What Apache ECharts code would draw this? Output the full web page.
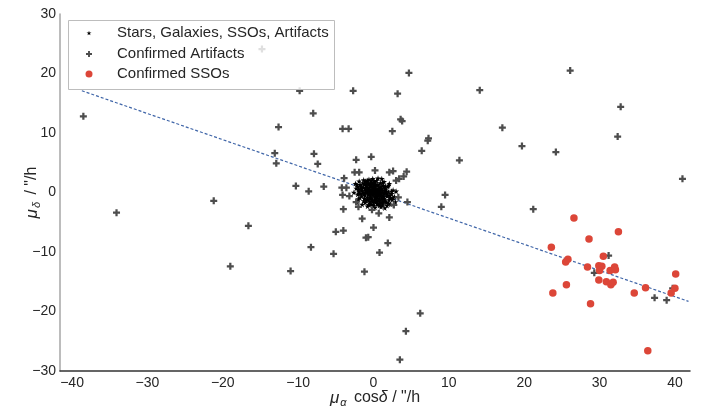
<!DOCTYPE html>
<html>
<head>
<meta charset="utf-8">
<script src="https://cdn.jsdelivr.net/npm/echarts@6/dist/echarts.min.js"></script>
<style>
html,body{margin:0;padding:0;background:#fff;}
#chart{width:707px;height:409px;}
</style>
</head>
<body>
<div id="chart"></div>
<script>
// ---- data ----
var seriesNames = ['Stars, Galaxies, SSOs, Artifacts', 'Confirmed Artifacts', 'Confirmed SSOs'];
var xTickLabels = [-40, -30, -20, -10, 0, 10, 20, 30, 40];
var yTickLabels = [-30, -20, -10, 0, 10, 20, 30];

// dense cluster of all detections around zero motion
var allSources = [
[0.0,0.0],[0.3,0.2],[-0.2,0.4],[0.5,-0.3],[0.8,0.1],[-0.5,-0.1],[0.2,-0.6],[-0.1,0.8],[1.0,-0.5],[-0.7,0.5],
[0.6,0.7],[-0.4,-0.6],[1.2,0.3],[-0.9,0.0],[0.4,-1.0],[-0.3,1.1],[1.4,-0.2],[-1.1,0.7],[0.9,0.9],[-0.8,-0.8],
[0.1,-1.3],[-0.6,1.3],[1.6,0.5],[-1.3,-0.3],[1.1,-1.1],[-1.0,1.2],[0.7,-1.4],[0.3,1.4],[1.8,-0.6],[-1.5,0.4],
[1.3,1.2],[-1.2,-1.0],[0.0,-1.7],[-0.2,1.7],[2.0,0.1],[-1.7,0.9],[1.5,-1.3],[-0.5,-1.5],[0.9,1.6],[-1.6,-0.6],
[2.2,-0.9],[-1.9,0.2],[0.5,-1.9],[-0.9,1.8],[1.9,1.0],[-1.4,1.6],[1.2,-1.8],[-0.3,-2.0],[0.4,2.0],[2.4,-0.2],
[-2.1,-0.3],[1.7,-1.7],[-1.8,1.3],[0.8,-2.2],[-0.1,2.3],[2.5,-1.2],[-2.3,0.7],[1.4,1.8],[-1.1,-1.7],[2.6,0.4],
[-2.0,-1.1],[1.0,-2.4],[-0.6,2.2],[2.1,1.5],[-2.4,1.5],[2.8,-0.7],[0.2,-2.5],[-1.3,2.1],[1.8,-2.2],[-0.8,-2.3],
[2.9,-1.6],[-2.6,0.0],[0.6,2.4],[2.3,-2.0],[-1.9,1.9],[1.1,2.3],[-1.5,-2.0],[3.0,0.2],[-2.2,-1.6],[1.5,-2.6],
[0.15,0.55],[0.45,-0.7],[-0.35,0.15],[0.75,-0.45],[1.05,0.65],[-0.55,0.85],[0.35,0.45],[-0.15,-0.35],[0.65,0.35],[1.35,-0.75],
[-0.85,0.35],[0.25,-0.95],[0.95,-0.15],[-0.45,-0.95],[1.55,0.05],[-1.15,-0.45],[0.55,1.15],[-0.65,-0.25],[1.25,-1.45],[0.05,1.05],
[1.75,-0.25],[-1.35,0.85],[0.85,-1.75],[-0.25,-1.25],[1.45,0.85],[-0.95,1.45],[2.05,-1.25],[-1.65,-0.15],[0.15,1.85],[0.45,-1.45],
[0.1,0.1],[0.4,0.0],[-0.1,0.2],[0.2,0.3],[0.6,0.1],[-0.3,-0.2],[0.0,-0.4],[0.3,-0.3],[0.7,-0.1],[-0.6,0.2],
[0.5,0.4],[-0.2,0.6],[0.9,-0.3],[-0.4,0.3],[0.1,0.7],[0.8,0.5],[-0.7,-0.4],[0.3,-0.8],[1.1,0.0],[-1.0,0.3],
[0.6,-0.9],[-0.2,-0.9],[1.3,-0.4],[-0.8,0.8],[0.2,1.0],[1.0,1.0],[-1.2,-0.2],[0.8,-1.1],[-0.4,1.4],[1.5,0.3],
[-1.4,0.1],[1.1,-0.8],[0.0,1.3],[-0.1,-1.5],[1.7,0.2],[-1.6,0.6],[1.4,-1.0],[-0.7,-1.2],[0.6,1.3],[-1.0,-1.3],
[1.9,-0.4],[-1.8,-0.2],[0.3,-1.6],[-0.6,1.6],[1.6,1.0],[-1.2,1.4],[1.0,-1.6],[-0.5,-1.8],[0.2,1.6],[2.2,-0.5],
[-2.0,0.5],[1.6,-1.5],[-1.6,1.1],[0.6,-2.0],[-0.3,2.0],[2.3,-1.0],[-2.1,1.0],[1.2,1.6],[-1.3,-1.4],[2.4,0.2],
[-1.8,-0.9],[1.2,-2.1],[-0.8,2.0],[2.0,1.2],[-2.2,1.3],[2.6,-0.9],[0.0,-2.2],[-1.1,1.9],[2.0,-1.8],[-0.6,-2.1]
];

var artifacts = [
[-38.5,12.8],[-34.1,-3.4],[-21.2,-1.4],[-19.0,-12.4],[-16.6,-5.6],[-14.8,24.1],[-12.6,11.0],[-13.1,6.6],[-12.9,4.9],
[-11.0,-13.2],[-10.3,1.1],[-9.8,17.1],[-8.6,0.2],[-8.3,-9.2],[-8.0,13.3],[-7.9,6.5],[-7.4,4.8],[-6.6,1.0],
[-5.3,-10.3],[-5.0,-6.6],[-4.0,-6.4],[-4.1,10.7],[-3.3,10.7],[-4.0,-2.8],[-3.9,2.4],[-4.2,0.8],[-3.6,0.8],
[-4.1,-0.4],[-3.2,-0.6],[-2.7,17.1],[-2.3,5.5],[-2.5,3.4],[-1.9,3.4],[-2.3,-1.6],[-2.0,-2.4],[-1.5,-4.4],
[-1.2,-13.3],[-1.0,-7.6],[-0.7,-7.5],[-0.3,6.0],[-0.2,-2.9],[0.0,-5.9],[0.2,3.7],[0.7,-3.5],[0.8,-10.1],
[1.9,-8.5],[2.1,-4.2],[2.1,3.4],[2.6,3.6],[2.5,10.3],[2.7,-2.1],[3.0,2.0],[3.4,2.3],[3.3,-0.8],[3.2,16.6],
[3.5,-28.1],[3.6,12.3],[3.8,12.0],[4.0,2.7],[4.4,3.5],[4.3,-23.3],[4.5,-1.6],[4.7,20.1],[6.2,-20.3],[6.4,7.0],
[7.2,8.7],[7.3,9.1],[9.0,-2.4],[9.5,-0.4],[11.4,5.4],[14.1,17.2],[17.1,10.9],[19.7,7.8],[21.2,-2.8],[24.2,6.8],
[26.1,20.5],[29.3,-13.5],[31.2,-10.6],[32.4,9.4],[32.8,14.4],[37.3,-17.7],[38.9,-18.1],[39.7,-16.1],[41.0,2.3]
];

var ssos = [
[26.6,-4.3],[32.5,-6.6],[28.6,-7.8],[23.6,-9.2],[25.8,-11.2],[25.5,-11.7],[30.5,-10.7],[28.4,-12.5],
[29.9,-12.3],[30.3,-12.4],[30.0,-13.1],[31.4,-13.1],[32.0,-12.5],[32.1,-13.0],[29.9,-14.7],[30.9,-15.0],
[31.5,-15.5],[31.8,-15.1],[25.6,-15.5],[23.8,-16.9],[28.8,-18.7],[34.6,-16.9],[36.1,-16.0],[40.1,-13.7],
[40.0,-16.1],[39.5,-16.9],[36.4,-26.6]
];

// fitted trend line endpoints
var trendLine = [[-38.7, 17.1], [41.8, -18.3]];

// ---- chart ----
var FONT = '"Liberation Sans", Arial, Helvetica, sans-serif';
var TXT = '#262626';
var starPath = 'path://M50,0L61,35L98,35L68,57L79,91L50,70L21,91L32,57L2,35L39,35Z';
var plusPath = 'path://M3.4,0H6.6V3.4H10V6.6H6.6V10H3.4V6.6H0V3.4H3.4Z';

function minus(v) { return String(v).replace('-', '\u2212'); }

var chart = echarts.init(document.getElementById('chart'), null, {renderer: 'canvas'});

function legendCfg(name, size, top) {
  return {
    show: true,
    orient: 'horizontal',
    left: 89 - size / 2,
    top: top,
    padding: 0,
    itemGap: 0,
    itemWidth: size,
    itemHeight: size,
    z: 5,
    data: [name],
    selectedMode: false,
    textStyle: {fontFamily: FONT, fontSize: 15, color: TXT, lineHeight: 18,
                padding: [0, 0, 0, 23 - size / 2]}
  };
}

var option = {
  animation: false,
  backgroundColor: '#ffffff',
  textStyle: {fontFamily: FONT},
  grid: {left: 60, right: 17, top: 14, bottom: 38, containLabel: false, outerBoundsMode: 'none'},
  xAxis: {
    type: 'value', min: -41.6, max: 42,
    axisLine: {show: true, onZero: false, lineStyle: {color: '#333333', width: 1.5}},
    axisTick: {show: false},
    splitLine: {show: false},
    axisLabel: {customValues: xTickLabels, formatter: minus, fontSize: 14, color: TXT, margin: 5, fontFamily: FONT},
    name: '{mu|μ}{sub|α} cos{it|δ} / "/h',
    nameLocation: 'middle', nameGap: 17, nameMoveOverlap: false,
    nameTextStyle: {
      fontSize: 16, color: TXT, fontFamily: FONT,
      rich: {
        mu: {fontSize: 17, fontStyle: 'italic', color: TXT, fontFamily: FONT},
        sub: {fontSize: 11, fontStyle: 'italic', color: TXT, fontFamily: FONT, padding: [9, 3, 0, 1]},
        it: {fontSize: 16, fontStyle: 'italic', color: TXT, fontFamily: FONT}
      }
    }
  },
  yAxis: {
    type: 'value', min: -30, max: 30, interval: 10,
    axisLine: {show: true, onZero: false, lineStyle: {color: '#a6a6a6', width: 1.5}},
    axisTick: {show: false},
    splitLine: {show: false},
    axisLabel: {customValues: yTickLabels, formatter: minus, fontSize: 14, color: TXT, margin: 4, fontFamily: FONT},
    name: '{mu|μ}{sub|δ} / "/h',
    nameLocation: 'middle', nameGap: 18, nameRotate: 90, nameMoveOverlap: false,
    nameTextStyle: {
      fontSize: 16, color: TXT, fontFamily: FONT,
      rich: {
        mu: {fontSize: 17, fontStyle: 'italic', color: TXT, fontFamily: FONT},
        sub: {fontSize: 11, fontStyle: 'italic', color: TXT, fontFamily: FONT, padding: [9, 3, 0, 1]}
      }
    }
  },
  legend: [
    legendCfg(seriesNames[0], 5, 24),
    legendCfg(seriesNames[1], 6, 45),
    legendCfg(seriesNames[2], 7, 65)
  ],
  graphic: [{
    type: 'rect', z: 4, silent: true,
    shape: {x: 68.5, y: 20.5, width: 266, height: 69},
    style: {fill: 'rgba(255,255,255,0.82)', stroke: '#bdbdbd', lineWidth: 1}
  }],
  series: [
    {
      name: seriesNames[0], type: 'scatter', data: allSources,
      symbol: starPath, symbolSize: 6, z: 2,
      itemStyle: {color: '#000000', opacity: 1}
    },
    {
      name: seriesNames[1], type: 'scatter', data: artifacts,
      symbol: plusPath, symbolSize: 7, z: 2,
      itemStyle: {color: '#4d4d4d', opacity: 1}
    },
    {
      name: 'trend', type: 'line', data: trendLine,
      symbol: 'none', z: 2, silent: true,
      lineStyle: {color: '#3f65a8', width: 1.2, type: [3, 2]}
    },
    {
      name: seriesNames[2], type: 'scatter', data: ssos,
      symbol: 'circle', symbolSize: 7.5, z: 3,
      itemStyle: {color: '#dc4638', opacity: 1}
    }
  ]
};
chart.setOption(option);
</script>
</body>
</html>
